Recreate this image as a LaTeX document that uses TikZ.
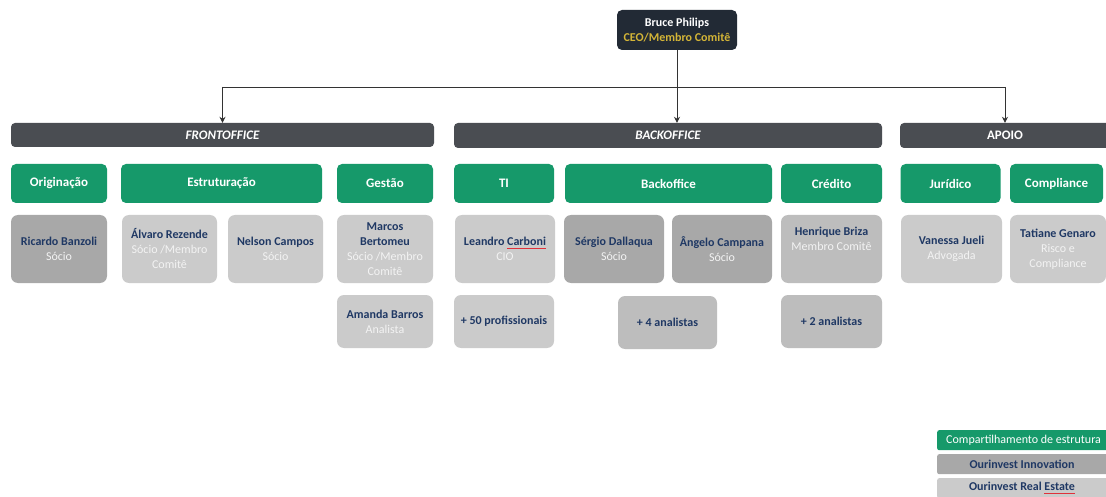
\documentclass[tikz,border=0pt]{standalone}
\usepackage{fontspec}
\setmainfont{Carlito}
\usetikzlibrary{arrows.meta}
\definecolor{navy}{HTML}{1F3864}
\definecolor{ceobg}{HTML}{222A35}
\definecolor{gold}{HTML}{D4B537}
\definecolor{hdr}{HTML}{4A4D52}
\definecolor{grn}{HTML}{16996A}
\definecolor{lgray}{HTML}{CBCBCB}
\definecolor{mgray}{HTML}{BDBDBD}
\definecolor{dgray}{HTML}{A8A8A8}
\definecolor{subtx}{HTML}{F3F3F3}
\definecolor{linec}{HTML}{333333}
\definecolor{spellred}{HTML}{E0303A}
\newsavebox{\splbox}
\newcommand{\pnm}[1]{\textcolor{navy}{\bfseries #1}}
\newcommand{\psub}[1]{\textcolor{subtx}{#1}}
\newcommand{\spl}[1]{\sbox{\splbox}{#1}\rlap{#1}{\color{spellred}\rule[-2.6pt]{\wd\splbox}{0.7pt}}}
\tikzset{
  fnt/.style={font=\fontsize{12}{15}\selectfont},
  ceobox/.style={fnt, fill=ceobg, rounded corners=5pt, align=center, inner sep=0pt},
  hdrbox/.style={fill=hdr, rounded corners=4pt, text=white, inner sep=0pt, font=\fontsize{13}{15}\selectfont\bfseries},
  grnbox/.style={fill=grn, rounded corners=5pt, text=white, inner sep=0pt, font=\fontsize{13}{15}\selectfont\bfseries},
  lightbox/.style={fnt, fill=lgray, rounded corners=7pt, align=center, inner sep=0pt},
  midbox/.style={lightbox, fill=mgray},
  darkbox/.style={lightbox, fill=dgray},
  legbox/.style={fnt, rounded corners=2pt, inner sep=0pt, anchor=north west},
  conn/.style={draw=linec, line width=0.9pt},
  arr/.style={conn, -{Stealth[length=6pt,width=6pt]}}
}
\begin{document}
\begin{tikzpicture}[x=1pt,y=-1pt]
\useasboundingbox (0,0) rectangle (1106,497);
\clip (0,0) rectangle (1106,497);
\fill[white] (0,0) rectangle (1106,497);

% CEO
\node[ceobox, minimum width=120pt, minimum height=40pt] (ceo) at (677,30)
  {\textcolor{white}{\bfseries Bruce Philips}\\\textcolor{gold}{\bfseries CEO/Membro Comitê}};

% headers
\node[hdrbox, minimum width=423pt, minimum height=24pt] (front) at (222.5,135) {\itshape FRONTOFFICE};
\node[hdrbox, minimum width=428pt, minimum height=25pt] (back) at (668,135.5) {\itshape BACKOFFICE};
\node[hdrbox, minimum width=210pt, minimum height=25pt] (apoio) at (1005,135.5) {APOIO};

% connectors
\coordinate (j) at (677,87);
\draw[arr] (ceo.south) -- (ceo.south |- back.north);
\draw[conn] (front.north |- j) -- (apoio.north |- j);
\draw[arr] (front.north |- j) -- (front.north);
\draw[arr] (apoio.north |- j) -- (apoio.north);

% green row
\node[grnbox, minimum width=96pt, minimum height=39pt] (orig) at (59,183.5) {Originação};
\node[grnbox, minimum width=201pt, minimum height=39pt] (estr) at (221.5,183.5) {Estruturação};
\node[grnbox, minimum width=96pt, minimum height=39pt] (gest) at (385,183.5) {Gestão};
\node[grnbox, minimum width=100pt, minimum height=39pt] (ti) at (504,183.5) {TI};
\node[grnbox, minimum width=207pt, minimum height=39pt] (bko) at (668.5,183.5) {Backoffice};
\node[grnbox, minimum width=101pt, minimum height=39pt] (cred) at (831.5,183.5) {Crédito};
\node[grnbox, minimum width=100pt, minimum height=39pt] (jur) at (950.5,183.5) {Jurídico};
\node[grnbox, minimum width=93pt, minimum height=39pt] (comp) at (1056.5,183.5) {Compliance};

% person row
\node[darkbox, minimum width=96pt, minimum height=68pt] (ricardo) at (59,249) {\pnm{Ricardo Banzoli}\\\psub{Sócio}};
\node[lightbox, minimum width=95pt, minimum height=68pt] (alvaro) at (169.5,249) {\pnm{Álvaro Rezende}\\\psub{Sócio /Membro}\\\psub{Comitê}};
\node[lightbox, minimum width=95pt, minimum height=68pt] (nelson) at (275.5,249) {\pnm{Nelson Campos}\\\psub{Sócio}};
\node[lightbox, minimum width=96pt, minimum height=68pt] (marcos) at (385,249) {\pnm{Marcos}\\\pnm{Bertomeu}\\\psub{Sócio /Membro}\\\psub{Comitê}};
\node[lightbox, minimum width=100pt, minimum height=68pt] (leandro) at (505,249) {\pnm{Leandro \spl{Carboni}}\\\psub{CIO}};
\node[darkbox, minimum width=100pt, minimum height=68pt] (sergio) at (614,249) {\pnm{Sérgio Dallaqua}\\\psub{Sócio}};
\node[darkbox, minimum width=100pt, minimum height=68pt] (angelo) at (722,249) {\pnm{Ângelo Campana}\\\psub{Sócio}};
\node[midbox, minimum width=101pt, minimum height=68pt] (henrique) at (831.5,249) {\pnm{Henrique Briza}\\\psub{Membro Comitê}\\\strut};
\node[lightbox, minimum width=101pt, minimum height=68pt] (vanessa) at (951.5,249) {\pnm{Vanessa Jueli}\\\psub{Advogada}};
\node[lightbox, minimum width=96pt, minimum height=68pt] (tatiane) at (1058,249) {\pnm{Tatiane Genaro}\\\psub{Risco e}\\\psub{Compliance}};

% third row
\node[lightbox, minimum width=96pt, minimum height=53pt] (amanda) at (385,321.5) {\pnm{Amanda Barros}\\\psub{Analista}};
\node[lightbox, minimum width=100pt, minimum height=53pt] (prof) at (504,321.5) {\pnm{+ 50 profissionais}};
\node[midbox, minimum width=99pt, minimum height=53pt] (ana4) at (667.5,322.5) {\pnm{+ 4 analistas}};
\node[midbox, minimum width=101pt, minimum height=53pt] (ana2) at (831.5,321.5) {\pnm{+ 2 analistas}};

% legend
\node[legbox, fill=grn, minimum width=180pt, minimum height=20pt] (lg1) at (937,430) {};
\node[anchor=west, text=white, inner sep=0pt, font=\fontsize{12}{15}\selectfont] (lg1t) at ([xshift=9pt]lg1.west) {Compartilhamento de estrutura};
\node[legbox, fill=dgray, minimum width=180pt, minimum height=20pt] (lg2) at (937,454) {};
\node[fnt, inner sep=0pt] (lg2t) at (1022,464) {\pnm{Ourinvest Innovation}};
\node[legbox, fill=lgray, minimum width=180pt, minimum height=20pt] (lg3) at (937,478) {};
\node[fnt, inner sep=0pt] (lg3t) at (1022,488) {\pnm{Ourinvest Real \spl{Estate}}};
\end{tikzpicture}
\end{document}
